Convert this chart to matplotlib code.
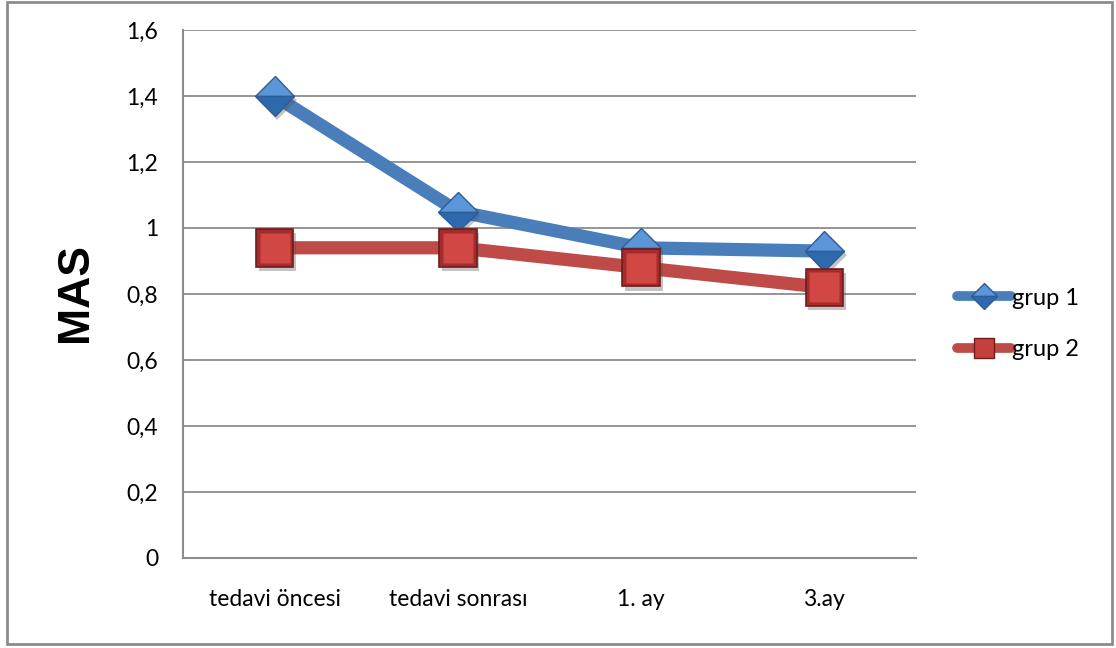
import matplotlib
matplotlib.use('Agg')
import matplotlib.pyplot as plt
import matplotlib.patheffects as pe
from matplotlib.lines import Line2D
from matplotlib.patches import Rectangle

categories = ['tedavi öncesi', 'tedavi sonrası', '1. ay', '3.ay']
grup1 = [1.40, 1.05, 0.94, 0.93]
grup2 = [0.94, 0.94, 0.88, 0.82]
yticks = [0, 0.2, 0.4, 0.6, 0.8, 1.0, 1.2, 1.4, 1.6]
ylabels = ['0', '0,2', '0,4', '0,6', '0,8', '1', '1,2', '1,4', '1,6']

blue = '#4a7ebb'
red = '#be4b48'
grid_c = '#8c8c8c'

plt.rcParams['font.family'] = ['Lato', 'DejaVu Sans']

fig = plt.figure(figsize=(11.16, 6.48), dpi=100)
ax = fig.add_axes([183 / 1116, 90 / 648, 733 / 1116, 528 / 648])

# outer chart border
fig.patches.append(Rectangle((7 / 1116, 4 / 648), 1105 / 1116, 642 / 648,
                             transform=fig.transFigure, fill=False,
                             edgecolor='#8c8c8c', linewidth=2))

x = list(range(len(categories)))
shadow = [pe.withSimplePatchShadow(offset=(2, -3), shadow_rgbFace='#555555', alpha=0.35)]

# lines
ax.plot(x, grup1, color=blue, linewidth=9.5, solid_capstyle='round', zorder=3)
ax.plot(x, grup2, color=red, linewidth=9.5, solid_capstyle='round', zorder=3)

# grup 1 diamonds
ax.plot(x, grup1, linestyle='none', marker='D', markersize=20,
        markerfacecolor='#5b96d8', markerfacecoloralt='#2f69ad', fillstyle='top',
        markeredgecolor='#2c5d96', markeredgewidth=1, zorder=4, path_effects=shadow)
# grup 2 squares with a bevel
ax.plot(x, grup2, linestyle='none', marker='s', markersize=27,
        markerfacecolor='#a52c2a', markeredgecolor='#6e1d1c', markeredgewidth=1.2,
        zorder=5, path_effects=shadow)
ax.plot(x, grup2, linestyle='none', marker='s', markersize=21,
        markerfacecolor='#d04744', markeredgecolor='none', zorder=6)

ax.set_xlim(-0.5, 3.5)
ax.set_ylim(0, 1.6)
ax.set_yticks(yticks)
ax.set_yticklabels(ylabels)
ax.set_xticks(x)
ax.set_xticklabels(categories)
ax.tick_params(axis='both', length=0, labelsize=16.5)
ax.tick_params(axis='y', pad=18)
ax.tick_params(axis='x', pad=22)

ax.grid(axis='y', color=grid_c, linewidth=1.3)
ax.set_axisbelow(True)
for s in ['top', 'right']:
    ax.spines[s].set_visible(False)
for s in ['left', 'bottom']:
    ax.spines[s].set_color(grid_c)
    ax.spines[s].set_linewidth(1.5)

fig.text(75 / 1116, 1 - 293 / 648, 'MAS', rotation=90, fontsize=32,
         fontweight='bold', family='Liberation Sans', ha='center', va='center')

handles = [
    Line2D([], [], color=blue, linewidth=7, solid_capstyle='round', marker='D',
           markersize=13, markerfacecolor='#5b96d8', markerfacecoloralt='#2f69ad',
           fillstyle='top', markeredgecolor='#2c5d96'),
    Line2D([], [], color=red, linewidth=7, solid_capstyle='round', marker='s',
           markersize=15, markerfacecolor='#c5403d', markeredgecolor='#6e1d1c'),
]
fig.legend(handles, ['grup 1', 'grup 2'], loc='center left',
           bbox_to_anchor=(945 / 1116, 1 - 324 / 648), frameon=False,
           fontsize=17, handlelength=2.3, handletextpad=0.05, labelspacing=1.3,
           borderpad=0)

fig.savefig('out.png', dpi=100)
